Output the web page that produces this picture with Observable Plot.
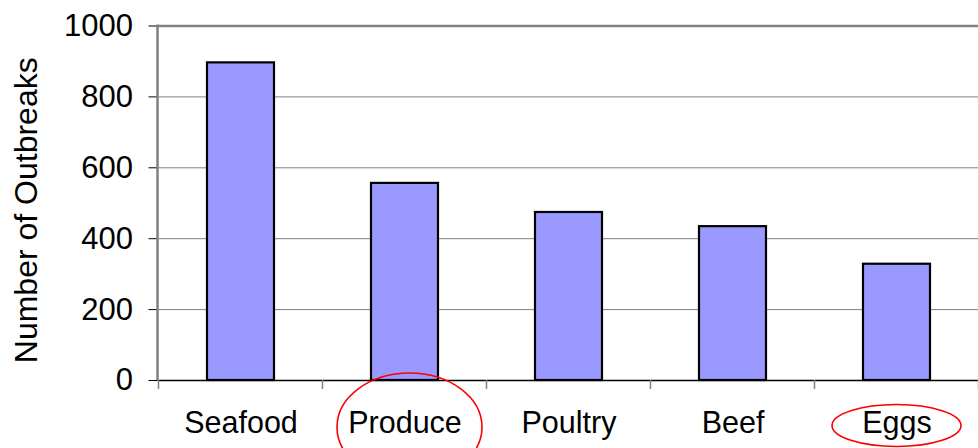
<!DOCTYPE html>
<html>
<head>
<meta charset="utf-8">
<script src="https://cdn.jsdelivr.net/npm/d3@7"></script>
<script src="https://cdn.jsdelivr.net/npm/@observablehq/plot@0.6"></script>
<style>
  html, body { margin: 0; padding: 0; background: #fff; overflow: hidden; }
  #chart svg { display: block; }
</style>
</head>
<body>
<div id="chart"></div>
<script>
const categories = ["Seafood", "Produce", "Poultry", "Beef", "Eggs"];
const outbreaks = [896, 556, 474, 434, 328];
const yTicks = [0, 200, 400, 600, 800, 1000];
const yLabel = "Number of Outbreaks";
const highlighted = ["Produce", "Eggs"];

const data = categories.map((c, i) => ({category: c, value: outbreaks[i]}));

const mL = 157.5, mT = 25.5, mB = 68, W = 978, H = 448;

const chart = Plot.plot({
  width: W,
  height: H,
  marginLeft: mL,
  marginRight: -2.5,
  marginTop: mT,
  marginBottom: mB,
  style: {fontFamily: "'Liberation Sans', Arial, sans-serif", background: "#fff", color: "#000"},
  x: {domain: categories, paddingInner: 0.59, paddingOuter: 0.295},
  y: {domain: [0, 1000]},
  marks: [
    Plot.gridY(yTicks.filter(d => d > 0 && d < 1000), {stroke: "#808080", strokeOpacity: 1, strokeWidth: 1}),
    Plot.ruleY([1000], {stroke: "#808080", strokeWidth: 2.5}),
    Plot.barY(data, {x: "category", y: "value", fill: "#9999FF", stroke: "#000", strokeWidth: 2.2}),
    Plot.ruleY([0], {stroke: "#000", strokeWidth: 1.5}),
    Plot.axisY({ticks: yTicks, tickFormat: d => String(d), tickSize: 9, tickPadding: 16, fontSize: 31, label: null, stroke: "#000"}),
    Plot.axisX({tickSize: 0, tickPadding: 31, fontSize: 30.5, label: null}),
    Plot.text([yLabel], {frameAnchor: "left", dx: 26 - mL, dy: 7, rotate: -90, fontSize: 32, textAnchor: "middle", fill: "#000"})
  ]
});

document.getElementById("chart").appendChild(chart);

// Decorations tied to the library's scales
const xs = chart.scale("x");
const ys = chart.scale("y");
const svg = d3.select(chart);
const gap = xs.step - xs.bandwidth;
const y0 = ys.apply(0), y1 = ys.apply(1000);

// vertical axis line
svg.append("line")
  .attr("x1", mL).attr("x2", mL).attr("y1", y1 - 1).attr("y2", y0)
  .attr("stroke", "#808080").attr("stroke-width", 2.5);

// category boundary ticks
const bounds = categories.map(c => xs.apply(c) - gap / 2);
bounds.push(xs.apply(categories[categories.length - 1]) + xs.bandwidth + gap / 2);
svg.append("g").selectAll("line").data(bounds).join("line")
  .attr("x1", d => d).attr("x2", d => d)
  .attr("y1", y0).attr("y2", y0 + 9)
  .attr("stroke", "#808080").attr("stroke-width", 1.5);

// red ellipses around highlighted categories
const ellSpec = {Produce: {dx: 5, cy: 427, rx: 72.5, ry: 54}, Eggs: {dx: 0, cy: 425.5, rx: 64.5, ry: 21}};
svg.append("g").selectAll("ellipse").data(highlighted).join("ellipse")
  .attr("cx", c => xs.apply(c) + xs.bandwidth / 2 + ellSpec[c].dx)
  .attr("cy", c => ellSpec[c].cy)
  .attr("rx", c => ellSpec[c].rx)
  .attr("ry", c => ellSpec[c].ry)
  .attr("fill", "none").attr("stroke", "#FF0000").attr("stroke-width", 1.6);
</script>
</body>
</html>
